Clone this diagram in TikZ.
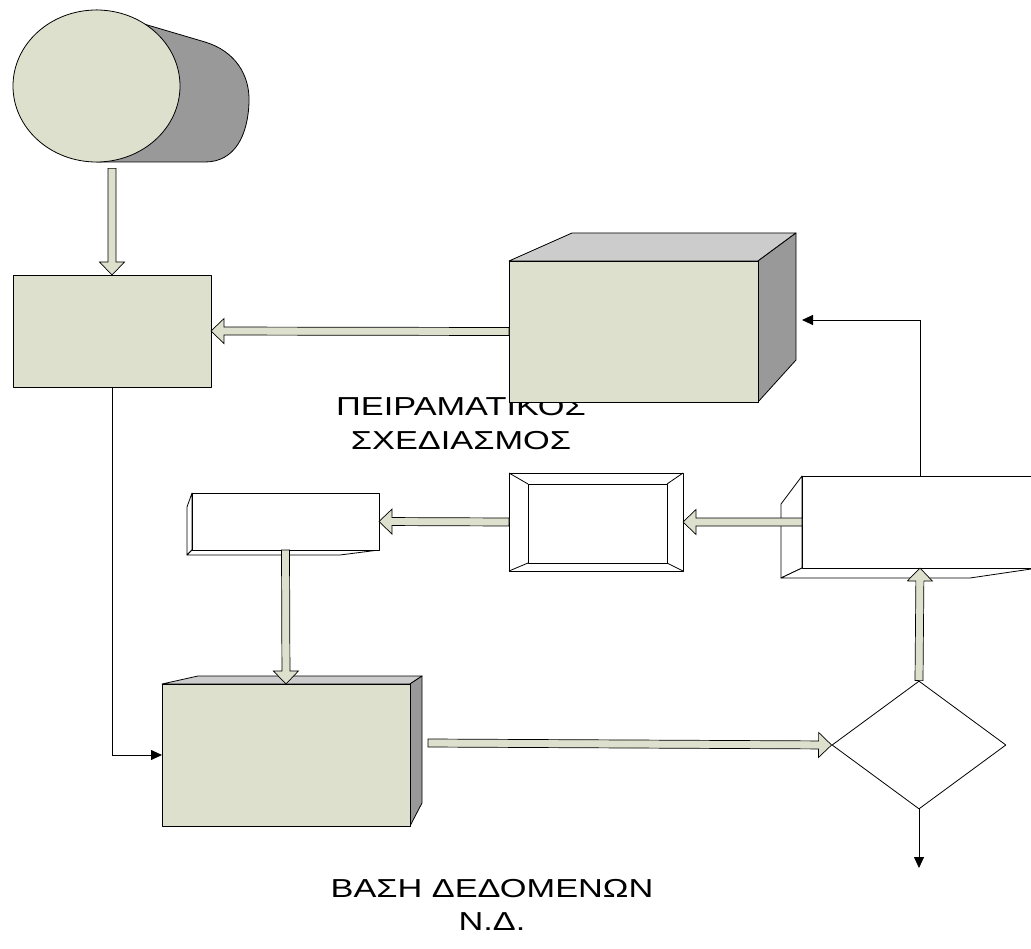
\documentclass[tikz,border=0pt]{standalone}
\usepackage{fontspec}
\usepackage{graphicx}
\setmainfont{Liberation Sans}
\usetikzlibrary{calc,shapes.geometric,arrows.meta}

\definecolor{facegreen}{RGB}{221,224,204}
\definecolor{topgray}{RGB}{204,204,204}
\definecolor{sidegray}{RGB}{153,153,153}

\tikzset{
  outline/.style={draw=black, line width=0.8pt, line join=round},
  face/.style={outline, fill=facegreen},
  topface/.style={outline, fill=topgray},
  sideface/.style={outline, fill=sidegray},
  whiteface/.style={outline, fill=white},
  boxnode/.style={rectangle, inner sep=0pt, outer sep=0pt},
  blockarr/.style={draw=black, line width=0.7pt, fill=facegreen, line join=miter},
  wire/.style={draw=black, line width=0.8pt, -{Triangle[length=11pt,width=10pt]}},
  caption/.style={align=center, inner sep=0pt},
}

% hollow block arrow from #1 to #2 (shaft 8pt, head 25pt wide, 13pt long)
\newcommand\blockarrow[2]{%
  \path[blockarr] let \p1=(#1), \p2=(#2),
    \n1={atan2(\y2-\y1,\x2-\x1)}, \n2={veclen(\x2-\x1,\y2-\y1)} in
    [shift={(\p1)}, rotate=\n1]
    (0pt,-4pt) -- ({\n2*1pt-13pt},-4pt) -- ({\n2*1pt-13pt},-12.5pt)
    -- ({\n2*1pt},0pt) -- ({\n2*1pt-13pt},12.5pt) -- ({\n2*1pt-13pt},4pt)
    -- (0pt,4pt) -- cycle;}

\begin{document}
\begin{tikzpicture}[x=1pt,y=-1pt]
\useasboundingbox (0,0) rectangle (1031,949);
\clip (0,0) rectangle (1031,949);
\fill[white] (0,0) rectangle (1031,949);

% cylinder: dark body, then the light front disc
\path[sideface] (96.5,10) -- (205,42)
  .. controls (235,51) and (250,75) .. (249,102)
  .. controls (248,135) and (235,162) .. (205,162)
  -- (96.5,162) -- cycle;
\node[ellipse, face, minimum width=167pt, minimum height=152pt, inner sep=0pt] (cyl) at (96.5,86) {};

% upper left box
\node[boxnode, face, minimum width=198pt, minimum height=112pt] (b1) at (112,331) {};

% caption partly hidden behind the large box
\node[caption, font=\fontsize{26}{34}\selectfont] (t1) at (461,424)
  {\scalebox{1.32}[1]{ΠΕΙΡΑΜΑΤΙΚΟΣ}\\\scalebox{1.32}[1]{ΣΧΕΔΙΑΣΜΟΣ}};

% large 3D box
\path[topface] (509,261) -- (572,233) -- (796,233) -- (758,261) -- cycle;
\path[sideface] (758,261) -- (796,233) -- (796,360) -- (758,402) -- cycle;
\node[boxnode, face, minimum width=249pt, minimum height=141pt] (b2) at (633.5,331.5) {};

% bevelled frame
\node[boxnode, whiteface, minimum width=174pt, minimum height=98pt] (b3) at (596,522) {};
\coordinate (i1) at ($(b3.north west)+(19,11)$);
\coordinate (i2) at ($(b3.north east)+(-16,11)$);
\coordinate (i3) at ($(b3.south east)+(-16,-8)$);
\coordinate (i4) at ($(b3.south west)+(19,-8)$);
\draw[outline] (i1) rectangle (i3);
\draw[outline] (b3.north west) -- (i1) (b3.north east) -- (i2)
  (b3.south east) -- (i3) (b3.south west) -- (i4);

% small white 3D box
\path[whiteface] (192,493) -- (187,507) -- (187,555) -- (192,550) -- cycle;
\path[whiteface] (192,550) -- (187,555) -- (340,555) -- (379,550) -- cycle;
\node[boxnode, whiteface, minimum width=187pt, minimum height=57pt] (sb) at (285.5,521.5) {};

% right white 3D box
\path[whiteface] (802,476) -- (781,504) -- (781,578) -- (802,568) -- cycle;
\path[whiteface] (802,568) -- (781,578) -- (970,578) -- (1038,568) -- cycle;
\node[boxnode, whiteface, minimum width=236pt, minimum height=92pt] (b4) at (920,522) {};

% lower 3D box
\path[topface] (162,684) -- (198,676) -- (422,676) -- (410,684) -- cycle;
\path[sideface] (410,684) -- (422,676) -- (422,803) -- (410,826) -- cycle;
\node[boxnode, face, minimum width=248pt, minimum height=142pt] (b5) at (286,755) {};

% decision
\node[diamond, outline, fill=white, minimum width=174pt, minimum height=128pt,
  inner sep=0pt, aspect=1.36] (dm) at (919,745) {};

% caption below
\node[caption, font=\fontsize{26}{33}\selectfont] (t2) at (492,905)
  {\scalebox{1.32}[1]{ΒΑΣΗ ΔΕΔΟΜΕΝΩΝ}\\\scalebox{1.32}[1]{Ν.Δ.}};

% thin connectors
\coordinate (r2) at (802,320);
\coordinate (out) at (919,868);
\draw[wire] (b1.south) |- (b5.west);
\draw[wire] (b4.north) |- (r2);
\draw[wire] (dm.south) -- (out);

% block arrows
\blockarrow{$(cyl.south -| b1.north)+(0,6)$}{b1.north}
\blockarrow{b2.west}{b1.east}
\blockarrow{b4.west}{b3.east}
\blockarrow{b3.west}{sb.east}
\blockarrow{sb.south}{b5.north}
\blockarrow{$(b5.east)+(18,-12)$}{dm.west}
\blockarrow{dm.north}{b4.south}
\end{tikzpicture}
\end{document}
